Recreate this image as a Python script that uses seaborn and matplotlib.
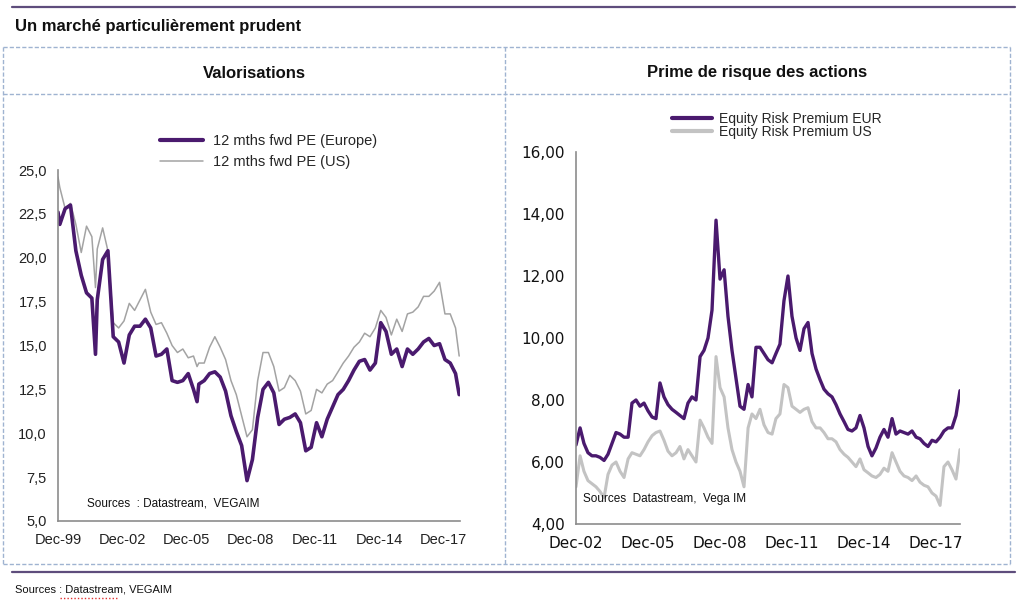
import matplotlib
matplotlib.use("Agg")
import matplotlib.pyplot as plt
import matplotlib.dates as mdates
from matplotlib.ticker import FuncFormatter, MultipleLocator
from matplotlib.lines import Line2D
import pandas as pd
import seaborn as sns

# ---- left panel : 12 mths fwd PE ----
left_dates = [
    "1999-12", "2000-01", "2000-04", "2000-07", "2000-10", "2001-01", "2001-04", "2001-07",
    "2001-09", "2001-10", "2002-01", "2002-04", "2002-07", "2002-10", "2003-01", "2003-04",
    "2003-07", "2003-10", "2004-01", "2004-04", "2004-07", "2004-10", "2005-01", "2005-04",
    "2005-07", "2005-10", "2006-01", "2006-04", "2006-06", "2006-07", "2006-10", "2007-01",
    "2007-04", "2007-07", "2007-10", "2008-01", "2008-04", "2008-07", "2008-10", "2009-01",
    "2009-04", "2009-07", "2009-10", "2010-01", "2010-04", "2010-07", "2010-10", "2011-01",
    "2011-04", "2011-07", "2011-10", "2012-01", "2012-04", "2012-07", "2012-10", "2013-01",
    "2013-04", "2013-07", "2013-10", "2014-01", "2014-04", "2014-07", "2014-10", "2015-01",
    "2015-04", "2015-07", "2015-10", "2016-01", "2016-04", "2016-07", "2016-10", "2017-01",
    "2017-04", "2017-07", "2017-10", "2018-01", "2018-04", "2018-07", "2018-09",
]
pe_europe = [
    22.6, 21.9, 22.8, 23.0, 20.4, 19.0, 18.0, 17.7,
    14.5, 17.6, 19.9, 20.4, 15.5, 15.2, 14.0, 15.6,
    16.1, 16.1, 16.5, 16.0, 14.4, 14.5, 14.8, 13.0,
    12.9, 13.0, 13.4, 12.5, 11.8, 12.8, 13.0, 13.4,
    13.5, 13.2, 12.4, 11.0, 10.1, 9.3, 7.3, 8.5,
    10.9, 12.5, 12.9, 12.3, 10.5, 10.8, 10.9, 11.1,
    10.6, 9.0, 9.2, 10.6, 9.8, 10.8, 11.5, 12.2,
    12.5, 13.0, 13.6, 14.1, 14.2, 13.6, 14.0, 16.3,
    15.8, 14.5, 14.8, 13.8, 14.8, 14.5, 14.8, 15.2,
    15.4, 15.0, 15.1, 14.2, 14.0, 13.4, 12.2,
]
pe_us = [
    24.6, 24.0, 22.8, 23.1, 21.9, 20.3, 21.8, 21.2,
    18.3, 20.5, 21.7, 20.4, 16.3, 16.0, 16.4, 17.4,
    17.0, 17.6, 18.2, 16.9, 16.2, 16.3, 15.7, 15.0,
    14.6, 14.8, 14.3, 14.4, 13.8, 14.0, 14.0, 14.9,
    15.5, 14.9, 14.2, 13.0, 12.2, 11.0, 9.8, 10.2,
    13.0, 14.6, 14.6, 13.8, 12.4, 12.6, 13.3, 13.0,
    12.4, 11.1, 11.3, 12.5, 12.3, 12.8, 13.0, 13.5,
    14.0, 14.4, 14.9, 15.2, 15.7, 15.5, 16.0, 17.0,
    16.6, 15.6, 16.5, 15.8, 16.8, 16.9, 17.2, 17.8,
    17.8, 18.1, 18.6, 16.8, 16.8, 16.0, 14.4,
]
left_ticks = ["1999-12", "2002-12", "2005-12", "2008-12", "2011-12", "2014-12", "2017-12"]

# ---- right panel : equity risk premium (every 2 months from Dec-02) ----
right_start = "2002-12-01"
erp_eur = [
    6.55, 7.1, 6.6, 6.3, 6.2, 6.2, 6.15, 6.05, 6.25, 6.6,
    6.95, 6.9, 6.8, 6.8, 7.9, 8.0, 7.8, 7.9, 7.65, 7.45,
    7.4, 8.55, 8.1, 7.85, 7.7, 7.6, 7.5, 7.4, 7.9, 8.1,
    8.0, 9.4, 9.6, 10.0, 10.9, 13.8, 11.9, 12.2, 10.7, 9.6,
    8.7, 7.8, 7.7, 8.5, 8.1, 9.7, 9.7, 9.5, 9.3, 9.2,
    9.5, 9.8, 11.2, 12.0, 10.7, 10.0, 9.6, 10.3, 10.5, 9.5,
    9.0, 8.65, 8.35, 8.2, 8.1, 7.85, 7.55, 7.3, 7.05, 7.0,
    7.1, 7.5, 7.1, 6.5, 6.2, 6.45, 6.8, 7.05, 6.8, 7.4,
    6.9, 7.0, 6.95, 6.9, 7.0, 6.8, 6.75, 6.6, 6.5, 6.7,
    6.65, 6.8, 7.0, 7.1, 7.1, 7.5, 8.3,
]
erp_us = [
    5.2, 6.2, 5.7, 5.4, 5.3, 5.2, 5.05, 4.85, 5.6, 5.9,
    6.0, 5.7, 5.5, 6.1, 6.3, 6.25, 6.2, 6.4, 6.65, 6.85,
    6.95, 7.0, 6.7, 6.35, 6.2, 6.3, 6.5, 6.1, 6.4, 6.2,
    6.0, 7.35, 7.1, 6.8, 6.6, 9.4, 8.4, 8.1, 7.1, 6.4,
    6.0, 5.7, 5.2, 7.1, 7.55, 7.4, 7.7, 7.2, 6.95, 6.9,
    7.4, 7.55, 8.5, 8.4, 7.8, 7.7, 7.6, 7.7, 7.75, 7.3,
    7.1, 7.1, 6.95, 6.75, 6.75, 6.65, 6.4, 6.25, 6.15, 6.0,
    5.85, 6.1, 5.75, 5.65, 5.55, 5.5, 5.6, 5.8, 5.7, 6.3,
    6.0, 5.7, 5.55, 5.5, 5.4, 5.55, 5.35, 5.25, 5.2, 5.0,
    4.9, 4.6, 5.85, 6.0, 5.75, 5.45, 6.4,
]
right_ticks = ["2002-12", "2005-12", "2008-12", "2011-12", "2014-12", "2017-12"]

PURPLE = "#4a1a6e"
GREY_L = "#a3a3a3"
GREY_R = "#c3c3c3"
AXIS = "#8c8c8c"
BOX = "#9fb3d1"
RULE = "#5e4d7c"

sns.set_style("white")
plt.rcParams["font.family"] = ["Liberation Sans", "DejaVu Sans"]

W, H = 1028, 609
fig = plt.figure(figsize=(W / 100, H / 100), dpi=100)


def fy(py):
    return 1 - py / H


left = pd.DataFrame({"date": pd.to_datetime(left_dates), "eu": pe_europe, "us": pe_us})
right = pd.DataFrame({"date": pd.date_range(right_start, periods=len(erp_eur), freq="2MS"),
                      "eur": erp_eur, "us": erp_us})

# ---------- left chart ----------
ax1 = fig.add_axes([58 / W, fy(521), 402 / W, 351 / H])
sns.lineplot(data=left, x="date", y="us", ax=ax1, color=GREY_L, linewidth=1.1)
sns.lineplot(data=left, x="date", y="eu", ax=ax1, color=PURPLE, linewidth=2.6)
ax1.set_xlim(pd.Timestamp("1999-12-01"), pd.Timestamp("2018-09-15"))
ax1.set_ylim(5, 25)
ax1.yaxis.set_major_locator(MultipleLocator(2.5))
ax1.yaxis.set_major_formatter(FuncFormatter(lambda v, p: f"{v:.1f}".replace(".", ",")))
ax1.set_xticks(pd.to_datetime(left_ticks))
ax1.xaxis.set_major_formatter(mdates.DateFormatter("%b-%y"))
ax1.xaxis.set_minor_locator(mdates.MonthLocator(bymonth=12))
for lab in ax1.get_yticklabels() + ax1.get_xticklabels():
    lab.set_fontsize(10.5)
    lab.set_color("#222222")
ax1.legend(
    [Line2D([], [], color=PURPLE, lw=3), Line2D([], [], color=GREY_L, lw=1.1)],
    ["12 mths fwd PE (Europe)", "12 mths fwd PE (US)"],
    loc="upper left", bbox_to_anchor=(160 / W, fy(134)), bbox_transform=fig.transFigure,
    frameon=False, borderpad=0, borderaxespad=0, handlelength=2.95, handletextpad=0.7,
    labelspacing=0.5, fontsize=10.5,
)
ax1.text(87 / W, fy(504), "Sources  : Datastream,  VEGAIM", transform=fig.transFigure,
         fontsize=8.5, va="center", ha="left", color="#111111")

# ---------- right chart ----------
ax2 = fig.add_axes([576 / W, fy(524), 384 / W, 372 / H])
sns.lineplot(data=right, x="date", y="us", ax=ax2, color=GREY_R, linewidth=2.2)
sns.lineplot(data=right, x="date", y="eur", ax=ax2, color=PURPLE, linewidth=2.4)
ax2.set_xlim(pd.Timestamp("2002-12-01"), pd.Timestamp("2018-12-01"))
ax2.set_ylim(4, 16)
ax2.yaxis.set_major_locator(MultipleLocator(2))
ax2.yaxis.set_major_formatter(FuncFormatter(lambda v, p: f"{v:.2f}".replace(".", ",")))
ax2.set_xticks(pd.to_datetime(right_ticks))
ax2.xaxis.set_major_formatter(mdates.DateFormatter("%b-%y"))
ax2.xaxis.set_minor_locator(mdates.MonthLocator(bymonth=12))
for lab in ax2.get_yticklabels() + ax2.get_xticklabels():
    lab.set_family("DejaVu Sans")
    lab.set_fontsize(11)
    lab.set_color("#111111")
ax2.legend(
    [Line2D([], [], color=PURPLE, lw=3), Line2D([], [], color=GREY_R, lw=3)],
    ["Equity Risk Premium EUR", "Equity Risk Premium US"],
    loc="upper left", bbox_to_anchor=(672 / W, fy(112)), bbox_transform=fig.transFigure,
    frameon=False, borderpad=0, borderaxespad=0, handlelength=2.9, handletextpad=0.45,
    labelspacing=-0.05, fontsize=10,
)
ax2.text(583 / W, fy(499), "Sources  Datastream,  Vega IM", transform=fig.transFigure,
         fontsize=8.5, va="center", ha="left", color="#111111")

for ax in (ax1, ax2):
    ax.set_xlabel("")
    ax.set_ylabel("")
    ax.spines[["top", "right"]].set_visible(False)
    for s in ("left", "bottom"):
        ax.spines[s].set_color(AXIS)
        ax.spines[s].set_linewidth(1.2)
    ax.tick_params(axis="x", which="major", direction="inout", length=8, width=1, color=AXIS, pad=5)
    ax.tick_params(axis="x", which="minor", direction="in", length=4, width=1, color=AXIS)
    ax.tick_params(axis="y", which="major", direction="out", length=5, width=1, color=AXIS, pad=3)
    ax.set_facecolor("none")

# ---------- frame, rules and titles ----------
dash = dict(color=BOX, linewidth=1, linestyle=(0, (3, 1.5)))
x0, x1, xm = 3, 1010, 505
y0, yh, y1 = 47, 94, 564
for xs, ys in [((x0, x1), (y0, y0)), ((x0, x1), (yh, yh)), ((x0, x1), (y1, y1)),
               ((x0, x0), (y0, y1)), ((x1, x1), (y0, y1)), ((xm, xm), (y0, y1))]:
    fig.add_artist(Line2D([v / W for v in xs], [fy(v) for v in ys], **dash))

for yy in (7, 572):
    fig.add_artist(Line2D([12 / W, 1015 / W], [fy(yy), fy(yy)], color=RULE, linewidth=1.6))

fig.text(15 / W, fy(27), "Un marché particulièrement prudent", fontsize=12,
         fontweight="bold", va="center", ha="left", color="#111111")
fig.text(254 / W, fy(73), "Valorisations", fontsize=12, fontweight="bold",
         va="center", ha="center", color="#111111")
fig.text(757 / W, fy(73), "Prime de risque des actions", fontsize=12, fontweight="bold",
         va="center", ha="center", color="#111111")
fig.text(15 / W, fy(590), "Sources : Datastream, VEGAIM", fontsize=8,
         va="center", ha="left", color="#111111")
fig.add_artist(Line2D([60 / W, 118 / W], [fy(598), fy(598)], color="#e03030",
                      linewidth=1, linestyle=(0, (1, 1.5))))

fig.savefig("out.png", dpi=100, facecolor="white")
